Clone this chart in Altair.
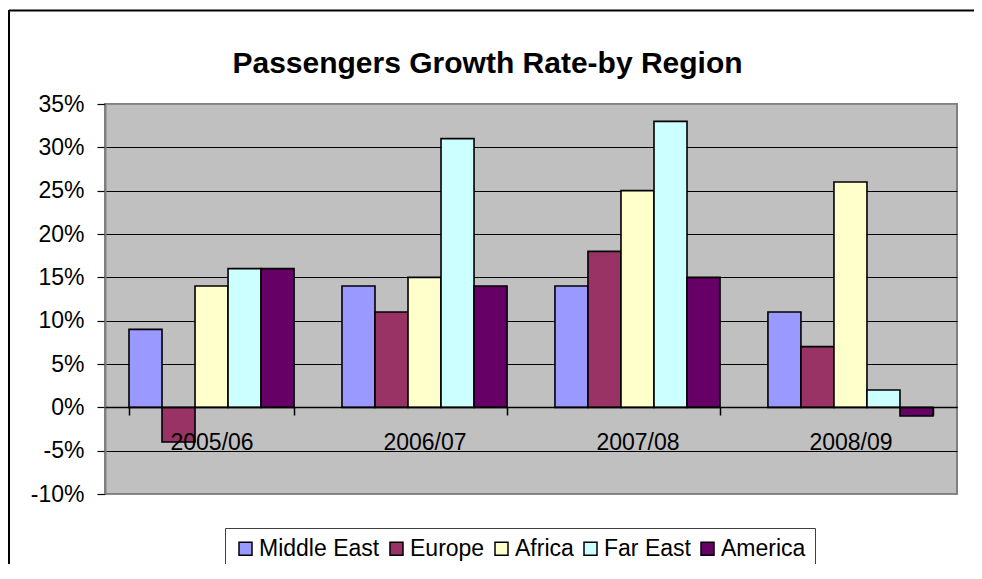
import altair as alt
import pandas as pd

periods = ["2005/06", "2006/07", "2007/08", "2008/09"]
regions = ["Middle East", "Europe", "Africa", "Far East", "America"]
middle_east = [9, 14, 14, 11]
europe = [-4, 11, 18, 7]
africa = [14, 15, 25, 26]
far_east = [16, 31, 33, 2]
america = [16, 14, 15, -1]
colors = ["#9999FF", "#993366", "#FFFFCC", "#CCFFFF", "#660066"]
y_ticks = [-10, -5, 0, 5, 10, 15, 20, 25, 30, 35]
title_text = "Passengers Growth Rate-by Region"

series = [middle_east, europe, africa, far_east, america]
rows = [
    {"period": p, "region": r, "value": v}
    for r, vals in zip(regions, series)
    for p, v in zip(periods, vals)
]
df = pd.DataFrame(rows)

FONT = "Liberation Sans"

bars = alt.Chart(df).mark_bar(stroke="black", strokeWidth=1.6).encode(
    x=alt.X(
        "period:N",
        sort=periods,
        scale=alt.Scale(paddingInner=0.225, paddingOuter=0.1127),
        axis=alt.Axis(
            title=None, orient="bottom", offset=-87,
            domainColor="black", domainWidth=1.5,
            tickColor="black", tickSize=8, tickWidth=1.5, tickBand="extent",
            labelFontSize=23, labelFont=FONT, labelColor="black",
            labelPadding=16, labelAngle=0, zindex=1,
        ),
    ),
    xOffset=alt.XOffset("region:N", sort=regions,
                        scale=alt.Scale(paddingInner=0, paddingOuter=0)),
    y=alt.Y(
        "value:Q",
        scale=alt.Scale(domain=[-10, 35], nice=False),
        axis=alt.Axis(
            title=None, values=y_ticks, labelExpr="datum.value + '%'",
            domainColor="#808080", domainWidth=2,
            tickColor="black", tickSize=8, tickWidth=1.2,
            labelFontSize=23, labelFont=FONT, labelColor="black", labelPadding=13,
            grid=True, gridWidth=1.2,
            gridColor={"condition": {"test": "datum.value == 35 || datum.value == -10",
                                     "value": "#8a8a8a"}, "value": "black"},
        ),
    ),
    color=alt.Color(
        "region:N",
        sort=regions,
        scale=alt.Scale(domain=regions, range=colors),
        legend=alt.Legend(
            orient="none", legendX=120, legendY=424, direction="horizontal",
            columns=5, title=None, symbolType="square", symbolSize=169,
            symbolStrokeColor="black", symbolStrokeWidth=1.5, symbolOpacity=1,
            labelFontSize=23, labelFont=FONT, labelColor="black", labelOffset=2,
            columnPadding=5, padding=9, strokeColor="#404040", fillColor="white",
            labelLimit=400,
        ),
    ),
)

one = pd.DataFrame({"k": [0]})
frame_top = alt.Chart(one).mark_rule(color="black", strokeWidth=2).encode(
    x=alt.value(-96), x2=alt.value(870), y=alt.value(-93.5)
)
frame_left = alt.Chart(one).mark_rule(color="black", strokeWidth=2).encode(
    x=alt.value(-96), y=alt.value(-94), y2=alt.value(470)
)

chart = alt.layer(bars, frame_top, frame_left).properties(
    width=852,
    height=390,
    background="white",
    title=alt.Title(
        title_text, font=FONT, fontSize=30, fontWeight="bold", color="black",
        anchor="middle", frame="group", dx=-43.5, offset=-93.5, baseline="alphabetic",
    ),
    autosize=alt.AutoSizeParams(type="none"),
    padding={"left": 97, "top": 96, "right": 17, "bottom": 70},
).configure_view(
    fill="#C0C0C0", stroke="#808080", strokeWidth=2
)

chart.save("out.html", embed_options={"renderer": "svg", "actions": False})
